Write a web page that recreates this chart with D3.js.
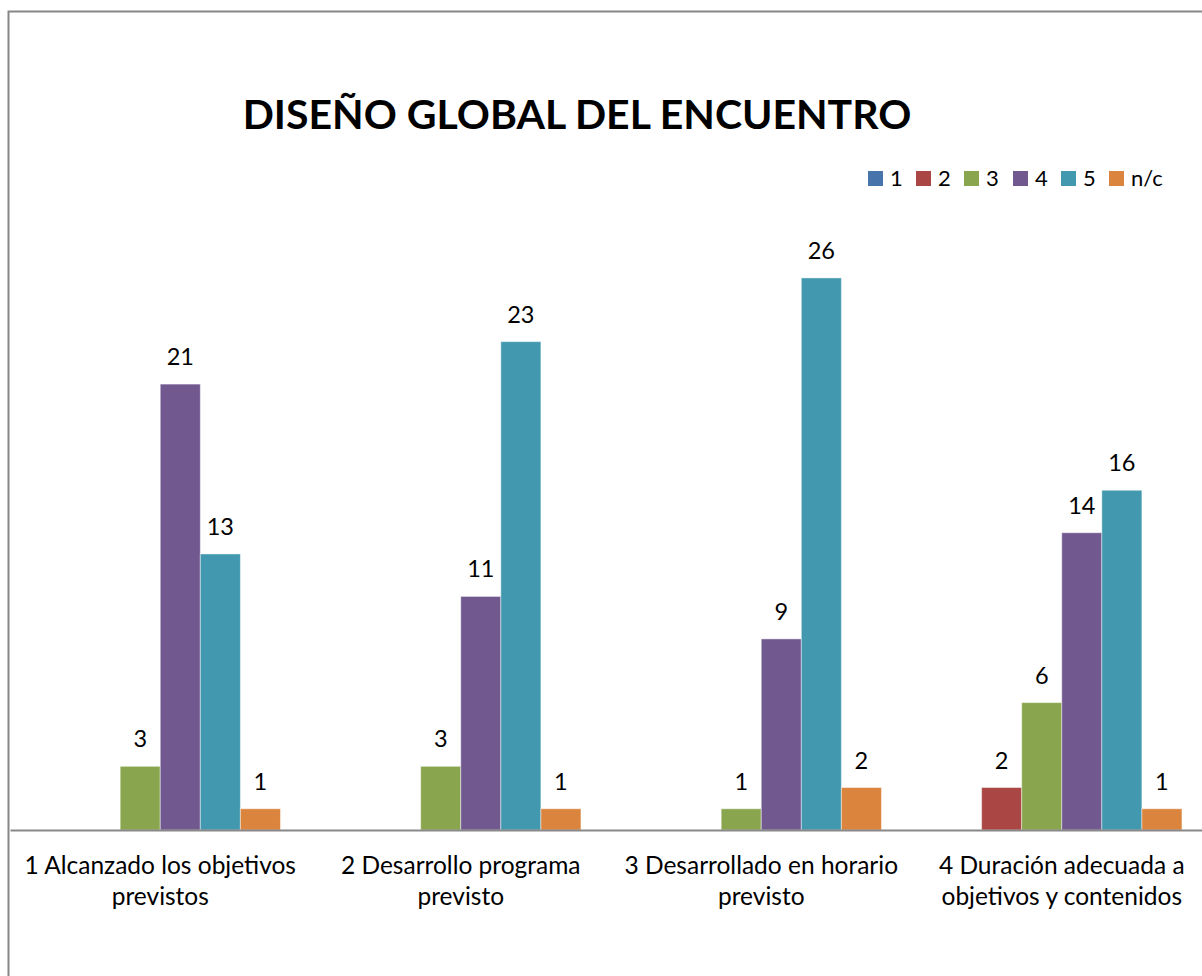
<!DOCTYPE html>
<html>
<head>
<meta charset="utf-8">
<script src="https://cdn.jsdelivr.net/npm/d3@7"></script>
<style>
  body { margin: 0; background: #fff; }
  text { font-family: Lato, "Open Sans", sans-serif; fill: #000; }
</style>
</head>
<body>
<script>
// chart data
var categories = [
  ["1 Alcanzado los objetivos", "previstos"],
  ["2 Desarrollo programa", "previsto"],
  ["3 Desarrollado en horario", "previsto"],
  ["4 Duración adecuada a", "objetivos y contenidos"]
];
var seriesNames = ["1", "2", "3", "4", "5", "n/c"];
var seriesColors = ["#4674AB", "#AA4643", "#89A54E", "#71588F", "#4198AF", "#DB843D"];
var values1 = [0, 0, 0, 0];
var values2 = [0, 0, 0, 2];
var values3 = [3, 3, 1, 6];
var values4 = [21, 11, 9, 14];
var values5 = [13, 23, 26, 16];
var valuesNC = [1, 1, 2, 1];
var allValues = [values1, values2, values3, values4, values5, valuesNC];

var w = 1202, h = 976;
var plot = {left: 10, right: 1212, top: 193, bottom: 830};

var svg = d3.select("body")
            .append("svg")
            .attr("width", w)
            .attr("height", h);

// chart area border (only top / left visible in the crop)
svg.append("path")
    .attr("d", "M8.5," + h + "V11.5H" + w)
    .attr("fill", "none")
    .attr("stroke", "#878787")
    .attr("stroke-width", 2);

var catKeys = categories.map(function(d, i) { return i; });
var x0 = d3.scaleBand()
            .domain(catKeys)
            .range([plot.left, plot.right]);
var x1 = d3.scaleBand()
            .domain(seriesNames)
            .range([x0.bandwidth() * 0.1, x0.bandwidth() * 0.9]);
var y = d3.scaleLinear()
            .domain([0, 30])
            .range([plot.bottom, plot.top]);

// flatten to one record per bar
var bars = [];
catKeys.forEach(function(c) {
    seriesNames.forEach(function(s, si) {
        bars.push({cat: c, series: s, color: seriesColors[si], value: allValues[si][c]});
    });
});

svg.append("g")
    .selectAll("rect")
    .data(bars.filter(function(d) { return d.value > 0; }))
    .enter().append("rect")
        .attr("x", function(d) { return x0(d.cat) + x1(d.series); })
        .attr("y", function(d) { return y(d.value); })
        .attr("width", x1.bandwidth())
        .attr("height", function(d) { return y(0) - y(d.value); })
        .attr("fill", function(d) { return d.color; })
        .attr("stroke", "rgba(255,255,255,0.45)")
        .attr("stroke-width", 1);

// value labels
svg.append("g")
    .selectAll("text")
    .data(bars.filter(function(d) { return d.value > 0; }))
    .enter().append("text")
        .attr("x", function(d) { return x0(d.cat) + x1(d.series) + x1.bandwidth() / 2; })
        .attr("y", function(d) { return y(d.value) - 19; })
        .attr("text-anchor", "middle")
        .style("font-size", "23.5px")
        .text(function(d) { return d.value; });

// category axis
var xAxis = d3.axisBottom(x0).tickSize(0).tickFormat("");
var axisG = svg.append("g")
    .attr("transform", "translate(0," + plot.bottom + ")")
    .call(xAxis);
axisG.select(".domain")
    .attr("stroke", "#888")
    .attr("stroke-width", 2);

var catLabels = svg.append("g")
    .selectAll("text")
    .data(categories)
    .enter().append("text")
        .attr("text-anchor", "middle")
        .style("font-size", "24.5px")
        .attr("transform", function(d, i) {
            return "translate(" + (x0(i) + x0.bandwidth() / 2) + ",874)";
        });
catLabels.selectAll("tspan")
    .data(function(d) { return d; })
    .enter().append("tspan")
        .attr("x", 0)
        .attr("y", function(d, i) { return i * 31; })
        .text(function(d) { return d; });

// title
svg.append("text")
    .attr("x", 577)
    .attr("y", 129)
    .attr("text-anchor", "middle")
    .style("font-size", "41px")
    .style("font-weight", "bold")
    .text("DISEÑO GLOBAL DEL ENCUENTRO");

// legend
var legendX = [868, 916, 964, 1013, 1061, 1109];
var legend = svg.append("g")
    .selectAll("g")
    .data(seriesNames)
    .enter().append("g")
        .attr("transform", function(d, i) { return "translate(" + legendX[i] + ",171)"; });
legend.append("rect")
    .attr("width", 15)
    .attr("height", 15)
    .attr("fill", function(d, i) { return seriesColors[i]; });
legend.append("text")
    .attr("x", 22)
    .attr("y", 15)
    .style("font-size", "22px")
    .text(function(d) { return d; });
</script>
</body>
</html>
